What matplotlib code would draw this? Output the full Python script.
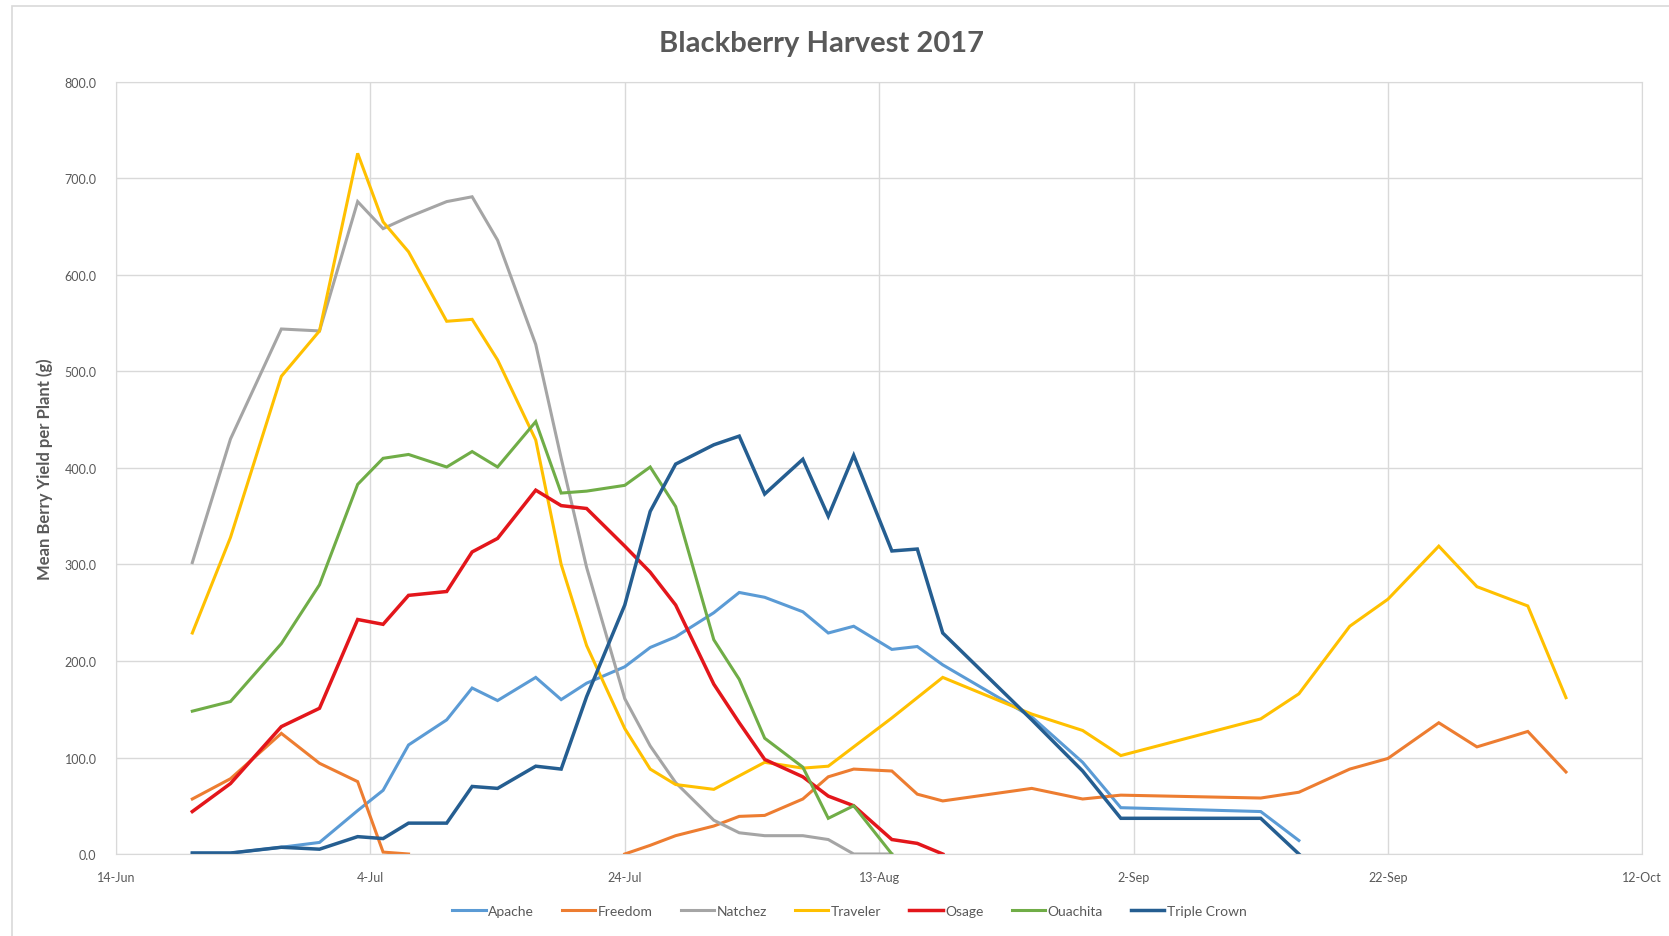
import numpy as np
import matplotlib
matplotlib.use("Agg")
import matplotlib.pyplot as plt
import matplotlib.dates as mdates
from matplotlib.patches import Rectangle
from datetime import date

plt.rcParams['font.family'] = ['Lato', 'DejaVu Sans']

nan = np.nan

# Harvest dates (2017)
harvest_dates = [
    "2017-06-20", "2017-06-23", "2017-06-27", "2017-06-30", "2017-07-03", "2017-07-05",
    "2017-07-07", "2017-07-10", "2017-07-12", "2017-07-14", "2017-07-17", "2017-07-19",
    "2017-07-21", "2017-07-24", "2017-07-26", "2017-07-28", "2017-07-31", "2017-08-02",
    "2017-08-04", "2017-08-07", "2017-08-09", "2017-08-11", "2017-08-14", "2017-08-16",
    "2017-08-18", "2017-08-25", "2017-08-29", "2017-09-01", "2017-09-12", "2017-09-15",
    "2017-09-19", "2017-09-22", "2017-09-26", "2017-09-29", "2017-10-03", "2017-10-06",
]

# Mean berry yield per plant (g)
apache = [1, 1, 7, 12, 45, 66, 113, 139, 172, 159, 183, 160, 177, 194, 214, 225, 250, 271,
          266, 251, 229, 236, 212, 215, 196, 142, 95, 48, 44, 14, nan, nan, nan, nan, nan, nan]
freedom = [57, 78, 125, 94, 75, 2, 0, nan, nan, nan, nan, nan, nan, 0, 9, 19, 29, 39,
           40, 57, 80, 88, 86, 62, 55, 68, 57, 61, 58, 64, 88, 99, 136, 111, 127, 85]
natchez = [302, 430, 544, 542, 676, 648, 660, 676, 681, 636, 528, 410, 297, 161, 112, 74, 35, 22,
           19, 19, 15, 0, 0, nan, nan, nan, nan, nan, nan, nan, nan, nan, nan, nan, nan, nan]
traveler = [229, 328, 495, 542, 726, 655, 624, 552, 554, 512, 429, 300, 216, 130, 88, 72, 67, 81,
            95, 89, 91, 111, 141, 162, 183, 145, 128, 102, 140, 166, 236, 264, 319, 277, 257, 162]
osage = [44, 73, 132, 151, 243, 238, 268, 272, 313, 327, 377, 361, 358, 319, 292, 258, 176, 136,
         98, 80, 60, 50, 15, 11, 0, nan, nan, nan, nan, nan, nan, nan, nan, nan, nan, nan]
ouachita = [148, 158, 218, 279, 383, 410, 414, 401, 417, 401, 448, 374, 376, 382, 401, 360, 222, 181,
            120, 90, 37, 50, 0, nan, nan, nan, nan, nan, nan, nan, nan, nan, nan, nan, nan, nan]
triple_crown = [1, 1, 7, 5, 18, 16, 32, 32, 70, 68, 91, 88, 163, 258, 355, 404, 424, 433,
                373, 409, 350, 413, 314, 316, 229, 139, 86, 37, 37, 0, nan, nan, nan, nan, nan, nan]

varieties = ["Apache", "Freedom", "Natchez", "Traveler", "Osage", "Ouachita", "Triple Crown"]
series = [apache, freedom, natchez, traveler, osage, ouachita, triple_crown]
colors = ["#5B9BD5", "#ED7D31", "#A5A5A5", "#FFC000", "#E3161B", "#70AD47", "#255E91"]
widths = [2.2, 2.2, 2.2, 2.2, 2.5, 2.2, 2.5]

x = [date.fromisoformat(d) for d in harvest_dates]

fig = plt.figure(figsize=(16.69, 9.37), dpi=100)
ax = fig.add_axes([0.0695, 0.0875, 0.9145, 0.824])

for name, vals, c, lw in zip(varieties, series, colors, widths):
    ax.plot(x, vals, color=c, lw=lw, label=name, solid_joinstyle='miter')

ax.set_ylim(0, 800)
ax.set_yticks(np.arange(0, 801, 100))
ax.yaxis.set_major_formatter(plt.FuncFormatter(lambda v, p: f"{v:.1f}"))

# axis runs 14-Jun to 12-Oct, one tick every 20 days
ax.set_xlim(date(2017, 6, 14), date(2017, 10, 12))
ax.set_xticks([date(2017, 6, 14), date(2017, 7, 4), date(2017, 7, 24), date(2017, 8, 13),
               date(2017, 9, 2), date(2017, 9, 22), date(2017, 10, 12)])
ax.xaxis.set_major_formatter(plt.FuncFormatter(
    lambda v, p: f"{mdates.num2date(v).day}-{mdates.num2date(v):%b}"))

ax.grid(True, color="#D9D9D9", lw=1)
ax.set_axisbelow(True)
for s in ax.spines.values():
    s.set_color("#D9D9D9")
ax.tick_params(length=0, labelsize=9, colors="#595959")
ax.tick_params(axis='y', pad=14)
ax.tick_params(axis='x', pad=12)

ax.set_ylabel("Mean Berry Yield per Plant (g)", fontsize=12, fontweight='bold',
              color="#595959", labelpad=8)

fig.text(0.492, 0.953, "Blackberry Harvest 2017", ha='center', va='center',
         fontsize=21, fontweight='bold', color="#595959")

fig.legend(loc='center', bbox_to_anchor=(0.509, 0.027), ncol=7, frameon=False,
           fontsize=10, handlelength=2.4, handletextpad=0.2, columnspacing=2.0,
           labelcolor="#595959")

fig.patches.append(Rectangle((12 / 1669, -0.01), 1.0, 1 - 7 / 937 + 0.01,
                             transform=fig.transFigure, fill=False,
                             edgecolor="#D9D9D9", lw=1.2))

fig.savefig("out.png", dpi=100)
